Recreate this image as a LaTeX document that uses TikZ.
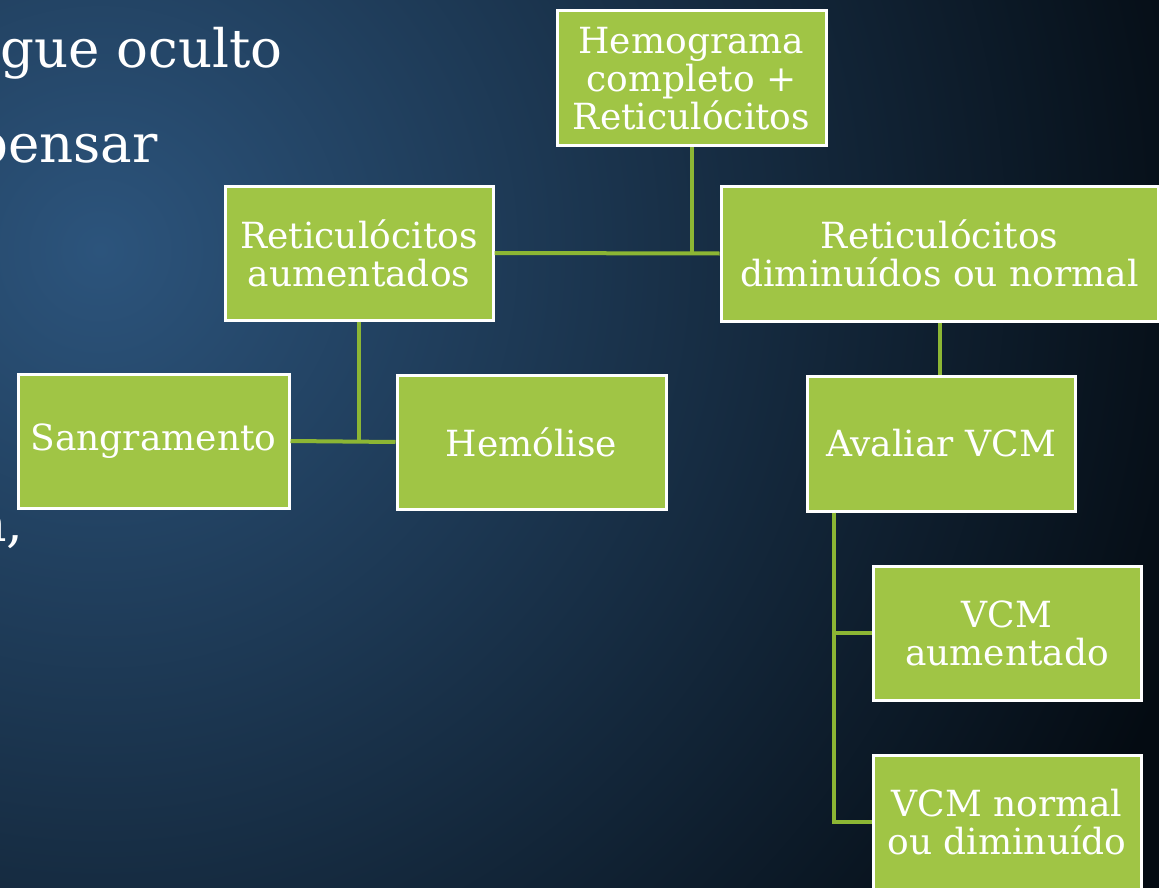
\documentclass[tikz,border=0pt]{standalone}
\usepackage{fontspec}
\setmainfont{DejaVu Serif}
\definecolor{bgA}{RGB}{44,84,124}
\definecolor{bgC}{RGB}{4,11,18}
\definecolor{boxgreen}{RGB}{160,197,69}
\definecolor{linegreen}{RGB}{140,182,52}
\tikzset{
  box/.style={draw=white, line width=3pt, fill=boxgreen, text=white, align=center,
    inner sep=0pt, font=\fontsize{36}{38}\selectfont},
  conn/.style={draw=linegreen, line width=4pt},
  bigtext/.style={text=white, font=\fontsize{53}{60}\selectfont, inner sep=0pt}
}
\begin{document}
\begin{tikzpicture}[x=1pt,y=-1pt]
\useasboundingbox (0,0) rectangle (1159,888);
\begin{scope}
\clip (0,0) rectangle (1159,888);
\fill[bgC] (0,0) rectangle (1159,888);
\shade[inner color=bgA, outer color=bgC] (100,250) circle (1150);
\end{scope}

% partial text on the left
\node[bigtext, anchor=base east] (t1) at (283,68) {gue oculto};
\node[bigtext, anchor=base east] (t2) at (158,163) {pensar};
\node[bigtext, anchor=base east] (t3) at (24,541) {a,};

% boxes
\node[box, minimum width=269pt, minimum height=135pt] (hemo) at (691.5,78.5)
  {Hemograma\\completo +\\Reticulócitos};
\node[box, minimum width=268pt, minimum height=134pt] (ra) at (359,253)
  {Reticulócitos\\aumentados};
\node[box, minimum width=437pt, minimum height=135pt] (rd) at (939.5,253.5)
  {Reticulócitos\\diminuídos ou normal};
\node[box, minimum width=271pt, minimum height=134pt] (sang) at (153.5,441)
  {Sangramento};
\node[box, minimum width=269pt, minimum height=134pt] (hemol) at (531.5,442)
  {Hemólise};
\node[box, minimum width=268pt, minimum height=135pt] (avm) at (941,443.5)
  {Avaliar VCM};
\node[box, minimum width=268pt, minimum height=134pt] (vcma) at (1007,633)
  {VCM\\aumentado};
\node[box, minimum width=268pt, minimum height=134pt] (vcmn) at (1007,822)
  {VCM normal\\ou diminuído};

% connectors
\draw[conn] (hemo.south) -- (hemo.south |- ra.east);
\draw[conn] (ra.east) -- (rd.west);
\draw[conn] (ra.south) -- (ra.south |- sang.east);
\draw[conn] (sang.east) -- (hemol.west);
\draw[conn] (rd.south) -- (rd.south |- avm.north);
\coordinate (tr) at ([xshift=28pt]avm.south west);
\draw[conn] (tr) |- (vcma.west);
\draw[conn] (tr) |- (vcmn.west);
\end{tikzpicture}
\end{document}
